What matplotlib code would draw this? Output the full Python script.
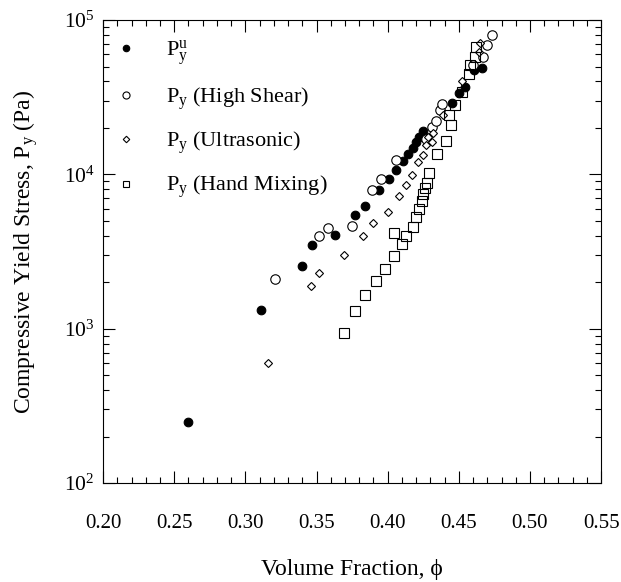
import matplotlib
matplotlib.use('Agg')
import matplotlib.pyplot as plt
from matplotlib.ticker import MultipleLocator, LogLocator, NullFormatter
import numpy as np

# --- Data ---
phi_u = [0.260, 0.311, 0.340, 0.347, 0.363, 0.377, 0.384, 0.394, 0.401, 0.406,
         0.411, 0.414, 0.418, 0.420, 0.422, 0.425, 0.445, 0.450, 0.454, 0.461, 0.466]
py_u = [250, 1320, 2540, 3500, 4050, 5450, 6240, 7900, 9400, 10700,
        12200, 13600, 14800, 16100, 17500, 19200, 29000, 33500, 37000, 47500, 48700]

phi_hs = [0.321, 0.352, 0.358, 0.375, 0.389, 0.395, 0.406, 0.427, 0.431, 0.434,
          0.437, 0.438, 0.460, 0.467, 0.470, 0.473]
py_hs = [2090, 3990, 4520, 4650, 7900, 9300, 12400, 17000, 20400, 22200,
         26100, 28600, 51200, 57900, 69000, 80000]

phi_us = [0.316, 0.346, 0.352, 0.369, 0.383, 0.390, 0.400, 0.408, 0.413, 0.417,
          0.421, 0.425, 0.427, 0.428, 0.431, 0.432, 0.439, 0.452, 0.464, 0.465]
py_us = [600, 1890, 2300, 3000, 3990, 4820, 5700, 7250, 8580, 9950,
         12100, 13300, 15400, 17600, 16100, 18500, 24300, 40300, 62400, 70700]

phi_hm = [0.369, 0.377, 0.384, 0.392, 0.398, 0.4045, 0.4045, 0.410, 0.413, 0.418,
          0.420, 0.422, 0.424, 0.425, 0.426, 0.4275, 0.429, 0.435, 0.441, 0.4446,
          0.4434, 0.447, 0.452, 0.457, 0.458, 0.4613, 0.462]
py_hm = [940, 1300, 1650, 2030, 2440, 2970, 4190, 3540, 4010, 4540,
         5270, 5940, 6730, 7470, 8130, 8840, 10200, 13500, 16500, 20900,
         24300, 28200, 34400, 44500, 51200, 57900, 67300]

labels = [r'P$_{\mathrm{y}}^{\mathrm{u}}$',
          r'P$_{\mathrm{y}}$ (High Shear)',
          r'P$_{\mathrm{y}}$ (Ultrasonic)',
          r'P$_{\mathrm{y}}$ (Hand Mixing)']

# --- Fonts: Times-like serif ---
plt.rcParams['font.family'] = ['Liberation Serif', 'DejaVu Serif']
plt.rcParams['mathtext.fontset'] = 'custom'
plt.rcParams['mathtext.rm'] = 'Liberation Serif'
plt.rcParams['mathtext.it'] = 'Liberation Serif:italic'

fig = plt.figure(figsize=(6.21, 5.82), dpi=100)
ax = fig.add_axes([0.166, 0.170, 0.802, 0.7955])

ax.plot(phi_u, py_u, 'o', ms=6.2, mfc='black', mec='black', mew=0.8, ls='none', label=labels[0])
ax.plot(phi_hs, py_hs, 'o', ms=6.8, mfc='white', mec='black', mew=0.8, ls='none', label=labels[1])
ax.plot(phi_us, py_us, 'D', ms=4.4, mfc='white', mec='black', mew=0.8, ls='none', label=labels[2])
ax.plot(phi_hm, py_hm, 's', ms=6.6, mfc='none', mec='black', mew=0.8, ls='none', label=labels[3])

ax.set_yscale('log')
ax.set_xlim(0.20, 0.55)
ax.set_ylim(1e2, 1e5)

ax.xaxis.set_major_locator(MultipleLocator(0.05))
ax.xaxis.set_minor_locator(MultipleLocator(0.01))
ax.xaxis.set_major_formatter(matplotlib.ticker.FormatStrFormatter('%.2f'))
ax.yaxis.set_major_locator(LogLocator(base=10))
ax.yaxis.set_minor_locator(LogLocator(base=10, subs=np.arange(2, 10)))
ax.yaxis.set_minor_formatter(NullFormatter())

ax.tick_params(which='both', direction='in', top=True, right=True, width=0.8)
ax.tick_params(which='major', length=8.5)
ax.tick_params(which='minor', length=4)
ax.tick_params(axis='x', which='major', labelsize=15, pad=22)
ax.tick_params(axis='y', which='major', labelsize=15.5, pad=6)

for s in ax.spines.values():
    s.set_linewidth(0.8)

ax.set_xlabel('Volume Fraction, \u03d5', fontsize=17, labelpad=19)
ax.set_ylabel(r'Compressive Yield Stress, P$_{\mathrm{y}}$ (Pa)', fontsize=17, labelpad=17)

ax.legend(loc='upper left', bbox_to_anchor=(0.024, 0.961), frameon=False,
          fontsize=16, numpoints=1, markerscale=0.75, handlelength=1.0,
          handletextpad=1.3, labelspacing=0.8, borderpad=0, borderaxespad=0)

plt.savefig('out.png', dpi=100)
